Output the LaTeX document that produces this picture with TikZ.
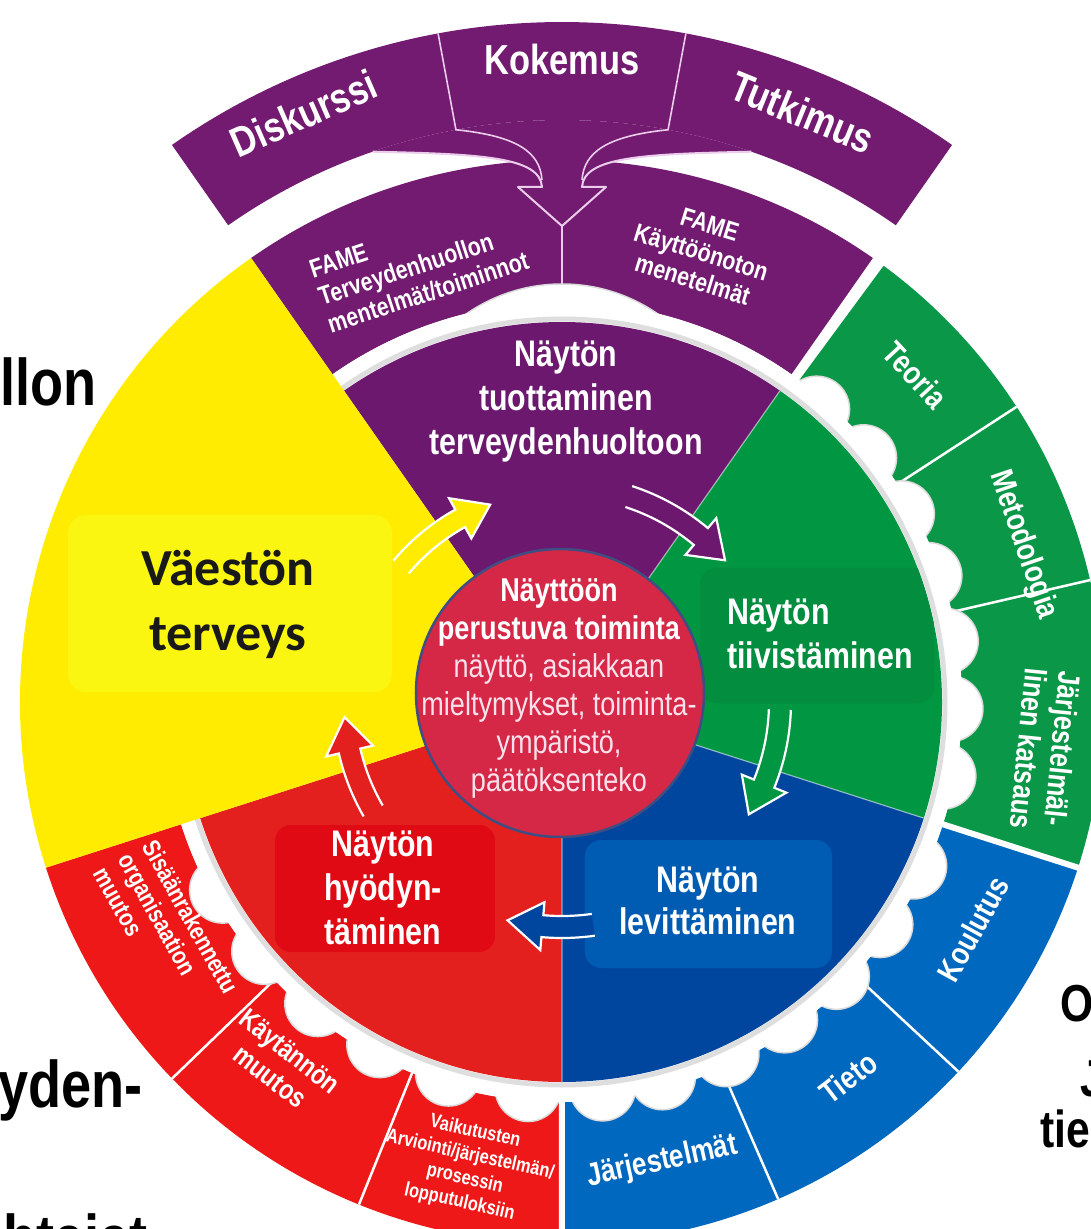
\documentclass[tikz,border=0pt]{standalone}
\usepackage{fontspec}
\usepackage{graphicx}
\setmainfont{Liberation Sans}
\newfontfamily\nar{Liberation Sans}
\newfontfamily\calfont{Carlito}
\definecolor{pur}{RGB}{108,24,110}
\definecolor{purR}{RGB}{114,27,112}
\definecolor{sep}{RGB}{235,205,235}
\definecolor{grn}{RGB}{0,150,66}
\definecolor{grnR}{RGB}{10,152,72}
\definecolor{grnB}{RGB}{3,141,62}
\definecolor{blu}{RGB}{0,70,158}
\definecolor{bluR}{RGB}{0,104,190}
\definecolor{bluB}{RGB}{0,92,178}
\definecolor{redA}{RGB}{228,32,30}
\definecolor{redR}{RGB}{238,24,24}
\definecolor{redB}{RGB}{224,10,20}
\definecolor{yel}{RGB}{255,236,0}
\definecolor{yelB}{RGB}{250,246,18}
\definecolor{core}{RGB}{212,40,70}
\definecolor{coreedge}{RGB}{62,78,130}
\definecolor{corelt}{RGB}{250,225,235}
\newcommand\NB[2]{\scalebox{0.82}[1]{\begin{tabular}{@{}#1@{}}#2\end{tabular}}}
\newcommand\AnnSeg[5]{\fill[#1] (#2:#4) arc[start angle=#2,end angle=#3,radius=#4] -- (#3:#5) arc[start angle=#3,end angle=#2,radius=#5] -- cycle;}
\newcommand\ArcArrow[7]{%
 \pgfmathsetmacro\AAri{#2-#5}\pgfmathsetmacro\AAro{#2+#5}%
 \pgfmathsetmacro\AArwi{#2-#5-#6}\pgfmathsetmacro\AArwo{#2+#5+#6}%
 \pgfmathsetmacro\AAtip{#4-#7}%
 \fill[#1] (#3:\AAri) arc[start angle=#3,end angle=#4,radius=\AAri] -- (#4:\AArwi) -- (\AAtip:#2) -- (#4:\AArwo) -- (#4:\AAro) arc[start angle=#4,end angle=#3,radius=\AAro] -- cycle;
 \draw[white,line width=2.2,line join=miter] (#3:\AAri) arc[start angle=#3,end angle=#4,radius=\AAri] -- (#4:\AArwi) -- (\AAtip:#2) -- (#4:\AArwo) -- (#4:\AAro) arc[start angle=#4,end angle=#3,radius=\AAro];
}
\begin{document}
\begin{tikzpicture}[x=1pt,y=1pt,
  sectitle/.style={text=white,inner sep=0,font=\nar\bfseries\fontsize{37}{44}\selectfont},
  srclbl/.style={text=white,inner sep=0,font=\nar\bfseries\fontsize{42}{46}\selectfont},
  famelbl/.style={text=white,inner sep=0,font=\nar\bfseries\fontsize{26}{29}\selectfont},
  ringlbl/.style={text=white,inner sep=0,font=\nar\bfseries\fontsize{32}{34}\selectfont},
  bgtxt/.style={text=black,inner sep=0,font=\nar\bfseries\fontsize{66}{70}\selectfont},
  bgtxtr/.style={text=black,inner sep=0,font=\nar\bfseries\fontsize{52}{56}\selectfont},
  lobe/.style={fill=white,draw=black!14,line width=1.5},
  sepline/.style={white,line width=2.5}]
\useasboundingbox (-562,-527) rectangle (529,702);
\fill[white] (-562,-527) rectangle (529,702);

% source ring
\AnnSeg{purR}{100.5}{125}{582}{680}
\AnnSeg{purR}{79.5}{100.5}{582}{680}
\AnnSeg{purR}{55}{79.5}{582}{680}
% FAME ring
\AnnSeg{purR}{90}{125}{400}{542}
\AnnSeg{purR}{55}{90}{400}{542}
% merging arrow
\fill[purR] (109:582) .. controls (-80,548) and (-22,545) .. (-20,515) -- (-44,515) -- (0,476) -- (44,515) -- (20,515) .. controls (22,545) and (80,548) .. (71:582) arc[start angle=71,end angle=109,radius=582] -- cycle;
\draw[sep,line width=2,line join=round] (109:582) .. controls (-80,548) and (-22,545) .. (-20,515) -- (-44,515) -- (0,476) -- (44,515) -- (20,515) .. controls (22,545) and (80,548) .. (71:582);
\draw[sep,line width=1.6] (100.5:680) -- (100.5:582) .. controls (-45,566) and (-22,550) .. (-20,522);
\draw[sep,line width=1.6] (79.5:680) -- (79.5:582) .. controls (45,566) and (22,550) .. (20,522);
\draw[sep,line width=1.6] (0,476) -- (0,400);

% outer ring segments
\AnnSeg{grnR}{-17.8}{53.6}{400}{542}
\AnnSeg{bluR}{-90}{-17.8}{400}{542}
\AnnSeg{redR}{-162.2}{-90}{400}{542}
\draw[sepline] (33:400) -- (33:542) (13:400) -- (13:542)
  (-43:400) -- (-43:542) (-66.5:400) -- (-66.5:542)
  (-112:400) -- (-112:542) (-136:400) -- (-136:542);
\draw[white,line width=6] (-17.8:395) -- (-17.8:546) (-90:395) -- (-90:546) (54.4:395) -- (54.4:546);

% scalloped gap
\foreach \a in {49,39,29,19,9,-1,-11,-25,-35,-45,-55,-65,-75,-84,-95,-107,-118,-129,-140,-151}
  \filldraw[lobe] (\a:388) circle (33);
\filldraw[lobe] (0,250) circle (168);
\fill[white] (0,0) circle (400);
\draw[black!13,line width=5] (0,0) circle (383);

% inner sectors
\fill[pur] (0,0) -- (55:380) arc[start angle=55,end angle=125,radius=380] -- cycle;
\fill[grn] (0,0) -- (-17.8:380) arc[start angle=-17.8,end angle=55,radius=380] -- cycle;
\fill[blu] (0,0) -- (-90:380) arc[start angle=-90,end angle=-17.8,radius=380] -- cycle;
\fill[redA] (0,0) -- (197.8:380) arc[start angle=197.8,end angle=270,radius=380] -- cycle;
\fill[yel] (0,0) -- (125:542) arc[start angle=125,end angle=197.8,radius=542] -- cycle;
\draw[white,opacity=.5,line width=1.2] (0,0) -- (55:380) (0,0) -- (-17.8:380) (0,0) -- (-90:380);

% text boxes
\fill[yelB,rounded corners=18] (-494,10) rectangle (-170,187);
\begin{scope}
\clip (0,0) circle (380);
\fill[grnB,rounded corners=16] (138,-1) rectangle (372,134);
\fill[bluB,rounded corners=16] (23,-266) rectangle (270,-138);
\fill[redB,rounded corners=16] (-287,-250) rectangle (-67,-123);
\end{scope}

% cycle arrows
\ArcArrow{yel}{210}{140}{119}{10}{13}{9}
\ArcArrow{pur}{216}{72}{50}{11}{13}{9}
\ArcArrow{grn}{218}{-2}{-22}{11}{13}{9}
\ArcArrow{blu}{225}{-82}{-95}{11}{13}{9}
\ArcArrow{redA}{218}{-150}{-167}{11}{13}{9}

% centre
\filldraw[fill=core,draw=coreedge,line width=2.5] (-2,9) circle (144);
\node[font=\nar\fontsize{33}{38}\selectfont,text=corelt,inner sep=0] (ebp) at (-3,13)
 {\NB{c}{{\color{white}\bfseries Näyttöön}\\{\color{white}\bfseries perustuva toiminta}\\näyttö, asiakkaan\\mieltymykset, toiminta-\\ympäristö,\\päätöksenteko}};

% sector titles
\node[sectitle] (gen) at (4,300) {\NB{c}{Näytön\\tuottaminen\\terveydenhuoltoon}};
\node[sectitle,anchor=west] (syn) at (165,64) {\NB{l}{Näytön\\tiivistäminen}};
\node[sectitle,font=\nar\bfseries\fontsize{37}{42}\selectfont] (tra) at (146,-203) {\NB{c}{Näytön\\levittäminen}};
\node[sectitle] (imp) at (-179,-190) {\NB{c}{Näytön\\hyödyn-\\täminen}};
\node[font=\calfont\bfseries\fontsize{52}{65}\selectfont,text=black!90,align=center,inner sep=0] (pop) at (-334,98) {Väestön\\terveys};

% source labels
\node[srclbl,rotate=23.7] (dis) at (113.7:637) {\NB{c}{Diskurssi}};
\node[srclbl] (kok) at (90:637) {\NB{c}{Kokemus}};
\node[srclbl,rotate=-22.2] (tut) at (67.8:631) {\NB{c}{Tutkimus}};
\node[famelbl,rotate=18.1] (fame1) at (108.1:457) {\NB{l}{FAME\\Terveydenhuollon\\mentelmät/toiminnot}};
\node[famelbl,rotate=-17.2] (fame2) at (72.8:468) {\NB{c}{FAME\\Käyttöönoton\\menetelmät}};

% green ring labels
\node[ringlbl,rotate=-47.2] (teo) at (42.8:477) {\NB{c}{Teoria}};
\node[ringlbl,rotate=-71.2] (met) at (18.8:486) {\NB{c}{Metodologia}};
\node[ringlbl,rotate=-95.7,font=\nar\bfseries\fontsize{31}{34}\selectfont] (jk) at (-5.7:482) {\NB{l}{Järjestelmäl-\\linen katsaus}};
% blue ring labels
\node[ringlbl,rotate=61.1] (kou) at (-28.9:474) {\NB{c}{Koulutus}};
\node[ringlbl,rotate=37.3] (tie) at (-52.7:477) {\NB{c}{Tieto}};
\node[ringlbl,rotate=12.3] (jar) at (-77.7:472) {\NB{c}{Järjestelmät}};
% red ring labels
\node[ringlbl,rotate=-12.6,font=\nar\bfseries\fontsize{20}{24}\selectfont] (vai) at (-101.5:475) {\NB{c}{Vaikutusten\\Arviointi/järjestelmän/\\prosessin\\lopputuloksiin}};
\node[ringlbl,rotate=-37.9,font=\nar\bfseries\fontsize{28}{32}\selectfont] (kay) at (-127.9:462) {\NB{c}{Käytännön\\muutos}};
\node[ringlbl,rotate=-61,font=\nar\bfseries\fontsize{25}{28}\selectfont] (sis) at (-150:460) {\NB{l}{Sisäänrakennettu\\organisaation\\muutos}};

% text fragments behind the wheel
\node[bgtxt,anchor=base west] (b1) at (-562,304) {\NB{l}{llon}};
\node[bgtxt,anchor=base east] (b2) at (-419,-398) {\NB{r}{eyden-}};
\node[bgtxt,anchor=base east] (b3) at (-414,-552) {\NB{r}{ohtajat}};
\node[bgtxtr,anchor=base west] (b4) at (498,-315) {\NB{l}{O}};
\node[bgtxtr,anchor=base west] (b5) at (518,-390) {\NB{l}{J}};
\node[bgtxtr,anchor=base west] (b6) at (478,-441) {\NB{l}{tie}};
\end{tikzpicture}
\end{document}
